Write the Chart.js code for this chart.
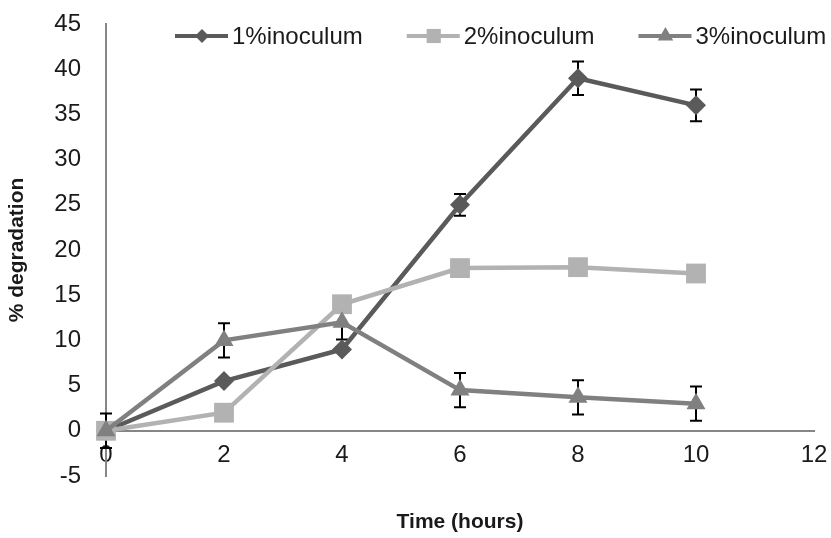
<!DOCTYPE html>
<html>
<head>
<meta charset="utf-8">
<script src="https://cdn.jsdelivr.net/npm/chart.js@4.4.0/dist/chart.umd.min.js"></script>
<style>
  html, body { margin: 0; padding: 0; background: #fff; }
</style>
</head>
<body>
<canvas id="chart" width="831" height="538"></canvas>
<script>
// Data
const hours = [0, 2, 4, 6, 8, 10];
const inoc1 = [0, 5.5, 9, 25, 39, 36];
const inoc2 = [0, 2, 14, 18, 18.1, 17.4];
const inoc3 = [0, 10, 12, 4.5, 3.7, 3];
// error bar half-lengths (0 = none drawn)
const err1 = [0, 0, 0, 1.2, 1.85, 1.75];
const err2 = [0, 0, 0, 0, 0, 0];
const err3 = [1.9, 1.9, 1.9, 1.9, 1.9, 1.9];
const seriesNames = ['1%inoculum', '2%inoculum', '3%inoculum'];
const xTitle = 'Time (hours)';
const yTitle = '% degradation';

const colors = ['#5a5a5a', '#b2b2b2', '#808080'];
const shapes = ['rectRot', 'rect', 'triangle'];
const sizes = [10, 14, 11];
const errors = [err1, err2, err3];

Chart.defaults.font.family = '"Liberation Sans", Arial, sans-serif';

function toPoints(ys) {
  return hours.map((h, i) => ({ x: h, y: ys[i] }));
}

// error bars sit under all the series
const errorBars = {
  id: 'errorBars',
  beforeDatasetsDraw(chart) {
    const xs = chart.scales.x, yScale = chart.scales.y;
    const ctx = chart.ctx;
    ctx.save();
    ctx.strokeStyle = '#000';
    ctx.lineWidth = 2;
    chart.data.datasets.forEach((ds, d) => {
      const errs = errors[d];
      ds.data.forEach((p, i) => {
        if (!errs[i]) return;
        const px = xs.getPixelForValue(p.x);
        const top = yScale.getPixelForValue(p.y + errs[i]);
        const bot = yScale.getPixelForValue(p.y - errs[i]);
        ctx.beginPath();
        ctx.moveTo(px, top); ctx.lineTo(px, bot);
        ctx.moveTo(px - 6, top); ctx.lineTo(px + 6, top);
        ctx.moveTo(px - 6, bot); ctx.lineTo(px + 6, bot);
        ctx.stroke();
      });
    });
    ctx.restore();
  }
};

// Excel-style legend (line + marker) and x title
const extras = {
  id: 'extras',
  afterDraw(chart) {
    const ctx = chart.ctx;
    const area = chart.chartArea;
    ctx.save();
    ctx.font = '24px "Liberation Sans", Arial, sans-serif';
    ctx.textBaseline = 'middle';
    let x = 175;
    const y = 36;
    seriesNames.forEach((name, i) => {
      ctx.strokeStyle = colors[i];
      ctx.lineWidth = 4;
      ctx.beginPath();
      ctx.moveTo(x, y); ctx.lineTo(x + 53, y);
      ctx.stroke();
      ctx.fillStyle = colors[i];
      Chart.helpers.drawPoint(ctx, { pointStyle: shapes[i], radius: [7, 10, 9][i], borderWidth: 0 }, x + 27, y);
      ctx.fillStyle = '#1a1a1a';
      ctx.textAlign = 'left';
      ctx.fillText(name, x + 57, y + 1);
      x += 57 + ctx.measureText(name).width + 44;
    });
    ctx.font = 'bold 21px "Liberation Sans", Arial, sans-serif';
    ctx.textAlign = 'center';
    ctx.fillStyle = '#1a1a1a';
    ctx.fillText(xTitle, (area.left + area.right) / 2, 522);
    ctx.restore();
  }
};

new Chart(document.getElementById('chart'), {
  type: 'line',
  data: {
    datasets: seriesNames.map((name, i) => ({
      label: name,
      data: toPoints([inoc1, inoc2, inoc3][i]),
      borderColor: colors[i],
      backgroundColor: colors[i],
      borderWidth: 4.5,
      pointStyle: shapes[i],
      pointRadius: sizes[i],
      pointHoverRadius: sizes[i],
      pointBorderWidth: 0,
      tension: 0,
      clip: false,
      order: 3 - i
    }))
  },
  options: {
    responsive: false,
    animation: false,
    events: [],
    layout: { padding: { left: 0, right: 17, top: 24, bottom: 62 } },
    plugins: { legend: { display: false }, tooltip: { enabled: false } },
    scales: {
      x: {
        type: 'linear',
        position: { y: 0 },
        min: 0, max: 12,
        afterFit(s) { s.height = 0; s.paddingLeft = 0; s.paddingRight = 0; },
        grid: { display: false, drawTicks: false },
        border: { display: true, color: '#868686', width: 2 },
        ticks: { stepSize: 2, color: '#1a1a1a', font: { size: 24 }, padding: 10 }
      },
      y: {
        min: -5, max: 45,
        afterFit(s) { s.width = 106; s.paddingTop = 0; s.paddingBottom = 0; },
        grid: { display: false, drawTicks: false },
        border: { display: true, color: '#868686', width: 2 },
        ticks: { stepSize: 5, color: '#1a1a1a', font: { size: 24 }, padding: 25 },
        title: { display: true, text: yTitle, color: '#1a1a1a', font: { size: 21, weight: 'bold' }, padding: 5 }
      }
    }
  },
  plugins: [errorBars, extras]
});
</script>
</body>
</html>
